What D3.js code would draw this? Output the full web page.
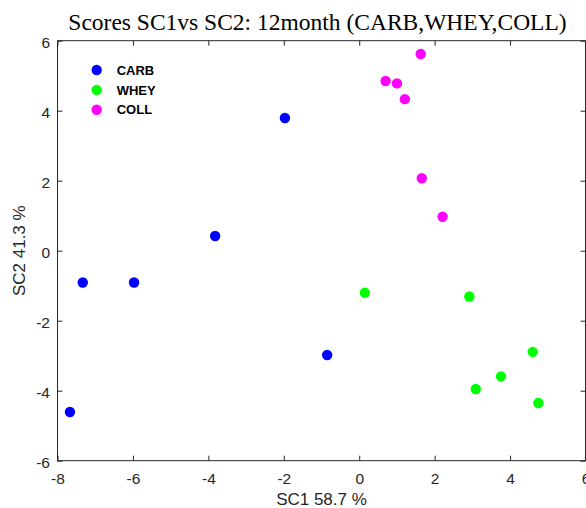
<!DOCTYPE html>
<html>
<head>
<meta charset="utf-8">
<script src="https://cdn.jsdelivr.net/npm/d3@7"></script>
<style>
  html, body { margin: 0; padding: 0; background: #fff; }
  svg { display: block; }
</style>
</head>
<body>
<svg id="chart" width="586" height="508"></svg>
<script>
// Score values per group (SC1, SC2)
const carbSC1 = [-7.33, -5.97, -3.82, -1.97, -0.85, -7.67];
const carbSC2 = [-0.91, -0.91, 0.42, 3.79, -2.98, -4.61];
const wheySC1 = [0.15, 2.92, 4.60, 3.76, 3.09, 4.75];
const wheySC2 = [-1.20, -1.31, -2.89, -3.59, -3.95, -4.35];
const collSC1 = [1.63, 0.70, 1.00, 1.21, 1.66, 2.21];
const collSC2 = [5.62, 4.85, 4.78, 4.33, 2.07, 0.97];
const groupNames = ["CARB", "WHEY", "COLL"];
const groupColors = ["#0000ff", "#00ff00", "#ff00ff"];
const xTicks = [-8, -6, -4, -2, 0, 2, 4, 6];
const yTicks = [-6, -4, -2, 0, 2, 4, 6];
const titleText = "Scores SC1vs SC2: 12month (CARB,WHEY,COLL)";
const xLabel = "SC1 58.7 %";
const yLabel = "SC2 41.3 %";

const groups = [
  { name: groupNames[0], color: groupColors[0], xs: carbSC1, ys: carbSC2 },
  { name: groupNames[1], color: groupColors[1], xs: wheySC1, ys: wheySC2 },
  { name: groupNames[2], color: groupColors[2], xs: collSC1, ys: collSC2 }
];

const svg = d3.select("#chart");
const plotL = 57.5, plotR = 585.5, plotT = 40.7, plotB = 460.7;
const axisColor = "#262626";
const sansFont = "Arial, 'Liberation Sans', sans-serif";

const x = d3.scaleLinear().domain([-8, 6]).range([plotL, plotR]);
const y = d3.scaleLinear().domain([-6, 6]).range([plotB, plotT]);

// Tick labels use a plain hyphen for negatives
const fmt = d => String(d);

// Frame box
svg.append("rect")
  .attr("x", plotL).attr("y", plotT)
  .attr("width", plotR - plotL).attr("height", plotB - plotT)
  .attr("fill", "none").attr("stroke", axisColor).attr("stroke-width", 1);

const tickLen = 5;
function styleAxis(g) {
  g.select(".domain").remove();
  g.selectAll(".tick line").attr("stroke", axisColor);
  g.selectAll(".tick text")
    .attr("fill", axisColor)
    .attr("font-family", sansFont)
    .attr("font-size", 15.5);
}

// Bottom axis (inward ticks, labels below)
svg.append("g")
  .attr("transform", `translate(0,${plotB})`)
  .call(d3.axisBottom(x).tickValues(xTicks).tickSize(-tickLen).tickPadding(12.5).tickFormat(fmt))
  .call(styleAxis);
// Top axis ticks only
svg.append("g")
  .attr("transform", `translate(0,${plotT})`)
  .call(d3.axisTop(x).tickValues(xTicks).tickSize(-tickLen).tickFormat(""))
  .call(styleAxis);
// Left axis
svg.append("g")
  .attr("transform", `translate(${plotL},0)`)
  .call(d3.axisLeft(y).tickValues(yTicks).tickSize(-tickLen).tickPadding(7.5).tickFormat(fmt))
  .call(styleAxis)
  .call(g => g.selectAll(".tick text").attr("dy", "0.45em"));
// Right axis ticks only
svg.append("g")
  .attr("transform", `translate(${plotR},0)`)
  .call(d3.axisRight(y).tickValues(yTicks).tickSize(-tickLen).tickFormat(""))
  .call(styleAxis);

// Points
groups.forEach(gr => {
  svg.append("g").selectAll("circle")
    .data(gr.xs.map((v, i) => [v, gr.ys[i]]))
    .join("circle")
    .attr("cx", d => x(d[0]))
    .attr("cy", d => y(d[1]))
    .attr("r", 5.2)
    .attr("fill", gr.color);
});

// Legend
const legend = svg.append("g").attr("transform", "translate(96.7,70)");
groups.forEach((gr, i) => {
  const row = legend.append("g").attr("transform", `translate(0,${i * 19.9})`);
  row.append("circle").attr("r", 5.2).attr("fill", gr.color);
  row.append("text")
    .attr("x", 20).attr("y", 0).attr("dy", "0.36em")
    .attr("font-family", sansFont)
    .attr("font-weight", "bold").attr("font-size", 13)
    .attr("fill", "#000")
    .text(gr.name);
});

// Title
svg.append("text")
  .attr("x", (plotL + plotR) / 2 - 4).attr("y", 30)
  .attr("text-anchor", "middle")
  .attr("font-family", "'Times New Roman', 'Liberation Serif', serif")
  .attr("font-size", 23.5)
  .attr("fill", "#000")
  .text(titleText);

// Axis titles
svg.append("text")
  .attr("x", (plotL + plotR) / 2).attr("y", 504.5)
  .attr("text-anchor", "middle")
  .attr("font-family", sansFont)
  .attr("font-size", 17)
  .attr("fill", axisColor)
  .text(xLabel);
svg.append("text")
  .attr("transform", `translate(25,${(plotT + plotB) / 2}) rotate(-90)`)
  .attr("text-anchor", "middle")
  .attr("font-family", sansFont)
  .attr("font-size", 17)
  .attr("fill", axisColor)
  .text(yLabel);
</script>
</body>
</html>
